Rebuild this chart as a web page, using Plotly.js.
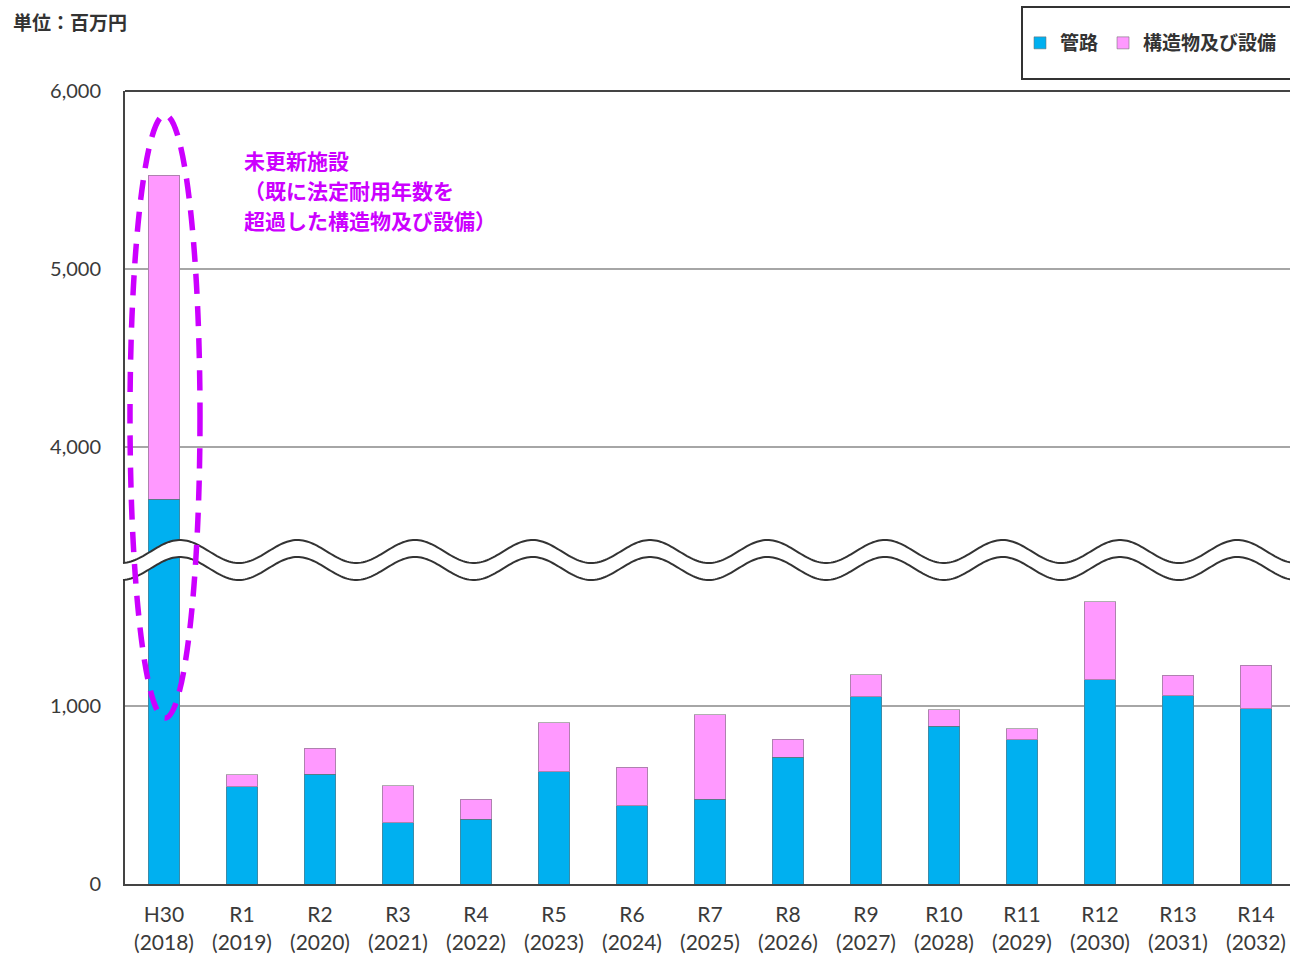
<!DOCTYPE html>
<html><head><meta charset="utf-8">
<script src="https://cdn.plot.ly/plotly-3.0.1.min.js"></script>
<style>html,body{margin:0;padding:0;background:#fff;}</style>
</head><body><div id="chart" style="width:1290px;height:958px;"></div>
<script>
// ---- data ----
const categories = ['H30<br>(2018)','R1<br>(2019)','R2<br>(2020)','R3<br>(2021)','R4<br>(2022)','R5<br>(2023)','R6<br>(2024)','R7<br>(2025)','R8<br>(2026)','R9<br>(2027)','R10<br>(2028)','R11<br>(2029)','R12<br>(2030)','R13<br>(2031)','R14<br>(2032)'];
const pipes      = [3706, 545, 618, 344, 363, 632, 441, 477, 713, 1053, 886, 811, 1147, 1059, 984];
const facilities = [1822,  69, 145, 208, 114, 273, 216, 473, 101,  122,  94,  60,  440,  115, 244];
const seriesNames = ['管路', '構造物及び設備'];
const lowerTicks = [0, 1000];
const upperTicks = [4000, 5000, 6000];
const unitLabel = '単位：百万円';
const noteLines = ['未更新施設', '（既に法定耐用年数を', '超過した構造物及び設備）'];

// ---- layout geometry (pixels) ----
const W = 1290, H = 958;
const L = 125, R = 1290, T = 91, B = 884;
const PW = R - L, PH = B - T;
const splitPx = 560;
const split = (B - splitPx) / PH;
const pxPer1000 = 178;
const lowerMax = (B - splitPx) / pxPer1000 * 1000;
const upperMin = 6000 - (splitPx - T) / pxPer1000 * 1000;
const px2x = p => (p - L) / PW;
const px2y = p => (B - p) / PH;

const blue = '#00B0F0', pink = '#FF99FF', magenta = '#CC00FF';
const numFont = "Lato, 'Noto Sans CJK JP', sans-serif";
const jpFont = "'Noto Sans CJK JP', sans-serif";

function bar(y, name, color, yaxis, show) {
  return {type:'bar', x:categories, y:y, name:name, yaxis:yaxis, showlegend:show,
    legendgroup:name, marker:{color:color, line:{color:'rgba(110,110,110,0.55)', width:1}},
    hoverinfo:'x+y+name'};
}
const traces = [
  bar(pipes, seriesNames[0], blue, 'y', true),
  bar(facilities, seriesNames[1], pink, 'y', true),
  bar(pipes, seriesNames[0], blue, 'y2', false),
  bar(facilities, seriesNames[1], pink, 'y2', false)
];

// wave break
const period = 117.5, x0w = 180;
function waveY(p, off) { return 551.5 + off - 11.5 * Math.cos(2 * Math.PI * (p - x0w) / period); }
function wavePts(off, from, to) {
  const pts = [];
  for (let p = from; p <= to; p += 2) pts.push([p, waveY(p, off)]);
  return pts;
}
function toPath(pts) { return pts.map((q, i) => (i ? 'L' : 'M') + px2x(q[0]).toFixed(5) + ',' + px2y(q[1]).toFixed(5)).join(' '); }
const upPts = wavePts(0, 123, 1300);
const loPts = wavePts(17, 123, 1300);
const bandPath = toPath(upPts.concat(loPts.slice().reverse())) + ' Z';

const axisCommon = {showline:true, linecolor:'#444', linewidth:2, ticks:'', zeroline:false,
  showgrid:true, gridcolor:'#A6A6A6', gridwidth:1.5, tickformat:',d', fixedrange:true,
  ticklabelstandoff:18, tickfont:{family:numFont, size:20, color:'#3a3a3a'}};

const layout = {
  width:W, height:H, margin:{l:L, r:W-R, t:T, b:H-B, autoexpand:false},
  paper_bgcolor:'#fff', plot_bgcolor:'#fff',
  barmode:'stack', bargap:0.59, showlegend:true,
  xaxis:{type:'category', range:[-0.5, -0.5 + PW/78], anchor:'y', showline:true, linecolor:'#444', linewidth:2,
    ticks:'', showgrid:false, fixedrange:true, ticklabelstandoff:11,
    tickfont:{family:numFont, size:21, color:'#3a3a3a'}},
  yaxis:Object.assign({}, axisCommon, {domain:[0, split], range:[0, lowerMax], tickvals:lowerTicks}),
  yaxis2:Object.assign({}, axisCommon, {domain:[split, 1], range:[upperMin, 6000], tickvals:upperTicks, anchor:'x'}),
  legend:{orientation:'h', x:px2x(1020), xanchor:'left', y:px2y(43), yanchor:'middle', traceorder:'normal',
    itemwidth:30, bgcolor:'rgba(0,0,0,0)', font:{family:jpFont, size:19, color:'#333', weight:'bold'}},
  shapes:[
    {type:'line', xref:'paper', yref:'paper', x0:0, x1:1, y0:1, y1:1, line:{color:'#444', width:2}},
    {type:'path', xref:'paper', yref:'paper', path:bandPath, fillcolor:'#fff', line:{width:0}, layer:'above'},
    {type:'path', xref:'paper', yref:'paper', path:toPath(upPts), line:{color:'#333', width:2}, layer:'above'},
    {type:'path', xref:'paper', yref:'paper', path:toPath(loPts), line:{color:'#333', width:2}, layer:'above'},
    {type:'circle', xref:'paper', yref:'paper', x0:px2x(130), x1:px2x(200), y0:px2y(718), y1:px2y(115),
      line:{color:magenta, width:5.5, dash:'20px,12px'}, layer:'above'},
    {type:'rect', xref:'paper', yref:'paper', x0:px2x(1022), x1:px2x(1300), y0:px2y(79), y1:px2y(7),
      line:{color:'#333', width:2}}
  ],
  annotations:[
    {xref:'paper', yref:'paper', x:px2x(11), y:px2y(22), xanchor:'left', yanchor:'middle', showarrow:false,
      text:unitLabel, font:{family:jpFont, size:19, color:'#333', weight:'bold'}},
  ].concat(noteLines.map((t, i) => ({xref:'paper', yref:'paper', x:px2x(242), y:px2y(160 + 30*i),
      xanchor:'left', yanchor:'middle', showarrow:false, text:t,
      font:{family:jpFont, size:21, color:magenta, weight:'bold'}})))
};

Plotly.newPlot('chart', traces, layout, {displayModeBar:false, staticPlot:true});
</script></body></html>
